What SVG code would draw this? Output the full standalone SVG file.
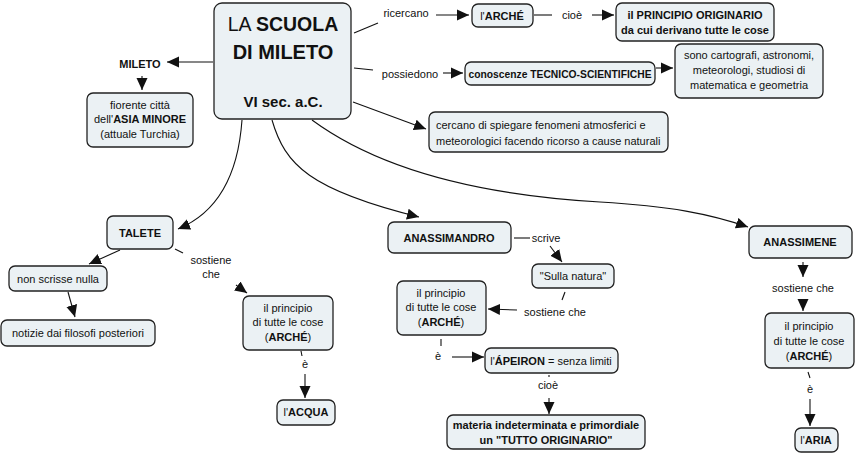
<svg xmlns="http://www.w3.org/2000/svg" width="857" height="456" viewBox="0 0 857 456">
<style>
  .box{fill:#ebf1f4;stroke:#222;stroke-width:1.3}
  text{font-family:"Liberation Sans",Arial,sans-serif;font-size:11px;fill:#111}
  .c{text-anchor:middle}
  .b{font-weight:bold}
  .ln{fill:none;stroke:#111;stroke-width:1.1}
  .ar{fill:none;stroke:#111;stroke-width:1.1;marker-end:url(#ah)}
</style>
<defs>
  <marker id="ah" markerUnits="userSpaceOnUse" markerWidth="12" markerHeight="12" viewBox="0 0 12 11" refX="12" refY="5.5" orient="auto">
    <path d="M0,0 L12,5.5 L0,11 z" fill="#111"/>
  </marker>
</defs>
<rect width="857" height="456" fill="#fff"/>

<g id="connectors">
  <path class="ar" d="M213,62 L167,62"/>
  <path class="ar" d="M142,76 L142,90"/>
  <path class="ln" d="M354,33 L378,23"/>
  <text class="c" x="406" y="17">ricercano</text>
  <path class="ar" d="M436,15 L469,15"/>
  <path class="ln" d="M534,15 L552,15"/>
  <text class="c" x="572" y="19">cioè</text>
  <path class="ar" d="M592,15 L614,15"/>
  <path class="ln" d="M354,68 L373,70"/>
  <text class="c" x="410" y="78">possiedono</text>
  <path class="ar" d="M443,73 L463,73"/>
  <path class="ar" d="M656,68 L673,68"/>
  <path class="ar" d="M353,102 L426,129"/>
  <path class="ar" d="M242,120 Q236,205 178,229"/>
  <path class="ar" d="M120,250 L89,264"/>
  <path class="ar" d="M68,292 L75,317"/>
  <path class="ln" d="M175,249 L183,253"/>
  <text class="c" x="211" y="264">sostiene</text>
  <text class="c" x="211" y="278">che</text>
  <path class="ar" d="M236,285 L247,293"/>
  <path class="ln" d="M301,351 L302,356"/>
  <text class="c" x="305" y="368">è</text>
  <path class="ar" d="M305,374 L305,398"/>
  <path class="ar" d="M272,120 C285,165 310,190 419,217"/>
  <path class="ln" d="M514,238 L530,238"/>
  <text class="c" x="546" y="242">scrive</text>
  <path class="ar" d="M550,246 L562,262"/>
  <path class="ln" d="M565,292 L562,300"/>
  <text class="c" x="555" y="316">sostiene che</text>
  <path class="ar" d="M517,310 L488,309"/>
  <path class="ln" d="M441,339 L441,346"/>
  <text class="c" x="438" y="360">è</text>
  <path class="ar" d="M452,357 L484,357"/>
  <path class="ln" d="M549,375 L549,377"/>
  <text class="c" x="548" y="389">cioè</text>
  <path class="ar" d="M549,398 L549,414"/>
  <path class="ar" d="M312,120 C380,170 480,195 600,202 C670,206 710,214 748,227"/>
  <path class="ar" d="M803,262 L803,277"/>
  <text class="c" x="803" y="292">sostiene che</text>
  <path class="ar" d="M803,299 L803,311"/>
  <path class="ln" d="M808,372 L810,378"/>
  <text class="c" x="810" y="393">è</text>
  <path class="ar" d="M810,399 L810,426"/>
</g>

<g id="main">
  <rect class="box" x="214" y="3" width="137" height="116" rx="8"/>
  <text class="c" x="283" y="31" style="font-size:19.5px"><tspan>LA </tspan><tspan class="b">SCUOLA</tspan></text>
  <text class="c b" x="283" y="59" style="font-size:20px">DI MILETO</text>
  <text class="c b" x="283" y="107" style="font-size:15px">VI sec. a.C.</text>
</g>

<g id="mileto">
  <text class="c b" x="140" y="68">MILETO</text>
</g>

<g id="fiorente">
  <rect class="box" x="87" y="93" width="106" height="54" rx="6"/>
  <text class="c" x="140" y="109">fiorente città</text>
  <text class="c" x="140" y="123">dell'<tspan class="b">ASIA MINORE</tspan></text>
  <text class="c" x="140" y="138">(attuale Turchia)</text>
</g>

<g id="arche">
  <rect class="box" x="472" y="4" width="61" height="23" rx="6"/>
  <text class="c" x="502" y="20">l'<tspan class="b">ARCHÉ</tspan></text>
</g>

<g id="principio-originario">
  <rect class="box" x="616" y="3" width="158" height="38" rx="6"/>
  <text class="c b" x="695" y="19">il PRINCIPIO ORIGINARIO</text>
  <text class="c b" x="695" y="34">da cui derivano tutte le cose</text>
</g>

<g id="conoscenze">
  <rect class="box" x="465" y="62" width="190" height="23" rx="6"/>
  <text class="c b" x="560" y="78" style="font-size:10.3px">conoscenze TECNICO-SCIENTIFICHE</text>
</g>

<g id="cartografi">
  <rect class="box" x="675" y="44" width="148" height="54" rx="6"/>
  <text class="c" x="749" y="59">sono cartografi, astronomi,</text>
  <text class="c" x="749" y="74">meteorologi, studiosi di</text>
  <text class="c" x="749" y="89">matematica e geometria</text>
</g>

<g id="fenomeni">
  <rect class="box" x="429" y="112" width="239" height="40" rx="6"/>
  <text x="436" y="129">cercano di spiegare fenomeni atmosferici e</text>
  <text x="436" y="145">meteorologici facendo ricorso a cause naturali</text>
</g>

<g id="talete">
  <rect class="box" x="107" y="216" width="66" height="33" rx="6"/>
  <text class="c b" x="140" y="237">TALETE</text>
</g>

<g id="non-scrisse">
  <rect class="box" x="9" y="266" width="98" height="25" rx="6"/>
  <text class="c" x="58" y="283">non scrisse nulla</text>
</g>

<g id="notizie">
  <rect class="box" x="1" y="320" width="154" height="26" rx="6"/>
  <text class="c" x="78" y="337">notizie dai filosofi posteriori</text>
</g>

<g id="principio-talete">
  <rect class="box" x="243" y="296" width="90" height="54" rx="6"/>
  <text class="c" x="288" y="312">il principio</text>
  <text class="c" x="288" y="326">di tutte le cose</text>
  <text class="c" x="288" y="341">(<tspan class="b">ARCHÉ</tspan>)</text>
</g>

<g id="acqua">
  <rect class="box" x="277" y="400" width="58" height="25" rx="6"/>
  <text class="c" x="306" y="416">l'<tspan class="b">ACQUA</tspan></text>
</g>

<g id="anassimandro">
  <rect class="box" x="388" y="222" width="123" height="31" rx="6"/>
  <text class="c b" x="449" y="242">ANASSIMANDRO</text>
</g>

<g id="sulla-natura">
  <rect class="box" x="532" y="264" width="82" height="24" rx="6"/>
  <text class="c" x="573" y="280">"Sulla natura"</text>
</g>

<g id="principio-anassimandro">
  <rect class="box" x="397" y="281" width="89" height="54" rx="6"/>
  <text class="c" x="441" y="297">il principio</text>
  <text class="c" x="441" y="311">di tutte le cose</text>
  <text class="c" x="441" y="326">(<tspan class="b">ARCHÉ</tspan>)</text>
</g>

<g id="apeiron">
  <rect class="box" x="485" y="348" width="133" height="25" rx="6"/>
  <text class="c" x="551" y="365">l'<tspan class="b">ÁPEIRON</tspan> = senza limiti</text>
</g>

<g id="materia">
  <rect class="box" x="447" y="415" width="198" height="34" rx="6"/>
  <text class="c b" x="546" y="429">materia indeterminata e primordiale</text>
  <text class="c b" x="546" y="444">un "TUTTO ORIGINARIO"</text>
</g>

<g id="anassimene">
  <rect class="box" x="749" y="226" width="103" height="32" rx="6"/>
  <text class="c b" x="800" y="246">ANASSIMENE</text>
</g>

<g id="principio-anassimene">
  <rect class="box" x="765" y="313" width="89" height="55" rx="6"/>
  <text class="c" x="809" y="330">il principio</text>
  <text class="c" x="809" y="345">di tutte le cose</text>
  <text class="c" x="809" y="360">(<tspan class="b">ARCHÉ</tspan>)</text>
</g>

<g id="aria">
  <rect class="box" x="795" y="428" width="43" height="24" rx="6"/>
  <text class="c" x="816" y="444">l'<tspan class="b">ARIA</tspan></text>
</g>
</svg>
